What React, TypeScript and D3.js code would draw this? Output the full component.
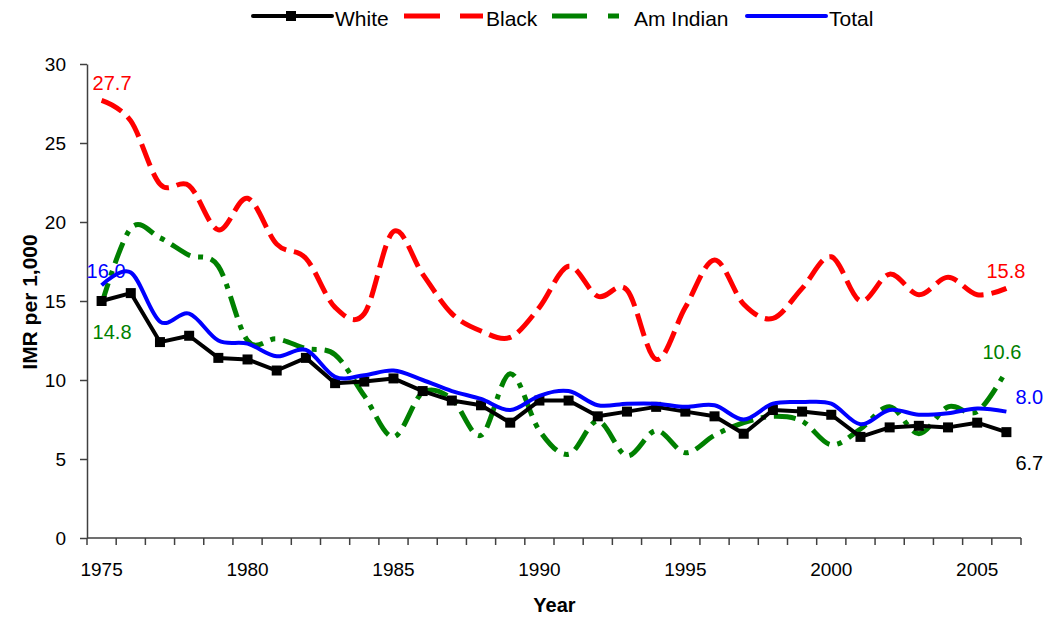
import React, { useEffect, useRef } from "react";
import * as d3 from "d3";

const years = d3.range(1975, 2007);
const yearLabels = [1975, 1980, 1985, 1990, 1995, 2000, 2005];
const yTicks = [0, 5, 10, 15, 20, 25, 30];

const white = [15.0, 15.5, 12.4, 12.8, 11.4, 11.3, 10.6, 11.4, 9.8, 9.9, 10.1, 9.3, 8.7, 8.4, 7.3, 8.7, 8.7, 7.7, 8.0, 8.3, 8.0, 7.7, 6.6, 8.1, 8.0, 7.8, 6.4, 7.0, 7.1, 7.0, 7.3, 6.7];
const black = [27.7, 26.4, 22.4, 22.3, 19.5, 21.5, 18.6, 17.7, 14.6, 14.2, 19.4, 16.7, 14.2, 13.1, 12.7, 14.6, 17.2, 15.3, 15.7, 11.3, 14.6, 17.6, 14.8, 13.9, 15.8, 17.8, 15.0, 16.7, 15.4, 16.5, 15.4, 15.8];
const amIndian = [14.8, 19.6, 19.0, 17.9, 17.2, 12.5, 12.6, 12.0, 11.6, 9.0, 6.4, 9.2, 8.8, 6.5, 10.4, 6.8, 5.3, 7.4, 5.2, 6.8, 5.4, 6.5, 7.3, 7.7, 7.4, 5.9, 6.9, 8.3, 6.6, 8.3, 8.0, 10.6];
const total = [16.0, 16.8, 13.7, 14.2, 12.5, 12.3, 11.5, 11.9, 10.2, 10.3, 10.6, 10.0, 9.3, 8.8, 8.1, 9.0, 9.3, 8.4, 8.5, 8.5, 8.3, 8.4, 7.5, 8.5, 8.6, 8.5, 7.2, 8.1, 7.8, 7.9, 8.2, 8.0];

const FONT = "'Liberation Sans', Arial, sans-serif";

export default function App() {
  const ref = useRef<SVGSVGElement>(null);

  useEffect(() => {
    const svg = d3.select(ref.current);
    svg.selectAll("*").remove();

    const x = d3.scaleBand<number>().domain(years).range([87, 1021]).padding(0);
    const y = d3.scaleLinear().domain([0, 30]).range([538, 64]);
    const cx = (yr: number) => (x(yr) as number) + x.bandwidth() / 2;

    const axisColor = "#404040";

    // y axis
    const yAxis = svg
      .append("g")
      .attr("transform", "translate(87,0)")
      .call(d3.axisLeft(y).tickValues(yTicks).tickSize(7).tickPadding(14).tickSizeOuter(0));
    yAxis.select(".domain").attr("stroke", axisColor).attr("stroke-width", 1.5);
    yAxis.selectAll(".tick line").attr("stroke", axisColor).attr("stroke-width", 1.5);
    yAxis.selectAll("text").attr("font-family", FONT).attr("font-size", 19).attr("fill", "#000");

    // x axis, ticks sit between the categories
    const xg = svg.append("g");
    xg.append("line")
      .attr("x1", 87).attr("x2", 1021).attr("y1", y(0)).attr("y2", y(0))
      .attr("stroke", axisColor).attr("stroke-width", 1.5);
    const edges = years.map((yr) => x(yr) as number).concat([1021]);
    xg.selectAll(".xt")
      .data(edges)
      .join("line")
      .attr("x1", (d) => d).attr("x2", (d) => d)
      .attr("y1", y(0)).attr("y2", y(0) + 7)
      .attr("stroke", axisColor).attr("stroke-width", 1.5);
    xg.selectAll(".xl")
      .data(yearLabels)
      .join("text")
      .attr("x", (d) => cx(d))
      .attr("y", 576)
      .attr("text-anchor", "middle")
      .attr("font-family", FONT)
      .attr("font-size", 19)
      .text((d) => d);

    // axis titles
    svg.append("text")
      .attr("x", cx(1990) + 15).attr("y", 612)
      .attr("text-anchor", "middle")
      .attr("font-family", FONT).attr("font-size", 20).attr("font-weight", "bold")
      .text("Year");
    svg.append("text")
      .attr("transform", "translate(37,302) rotate(-90)")
      .attr("text-anchor", "middle")
      .attr("font-family", FONT).attr("font-size", 21).attr("font-weight", "bold")
      .text("IMR per 1,000");

    const smooth = d3.line<number>().x((d, i) => cx(years[i])).y((d) => y(d)).curve(d3.curveCardinal.tension(0));
    const straight = d3.line<number>().x((d, i) => cx(years[i])).y((d) => y(d));

    // Am Indian
    svg.append("path").attr("d", smooth(amIndian))
      .attr("fill", "none").attr("stroke", "#008000").attr("stroke-width", 5)
      .attr("stroke-dasharray", "22 8 5 8");
    // Black
    svg.append("path").attr("d", smooth(black))
      .attr("fill", "none").attr("stroke", "#ff0000").attr("stroke-width", 5)
      .attr("stroke-dasharray", "23 8");
    // White
    svg.append("path").attr("d", straight(white))
      .attr("fill", "none").attr("stroke", "#000").attr("stroke-width", 4)
      .attr("stroke-linejoin", "round");
    svg.selectAll(".wm")
      .data(white)
      .join("rect")
      .attr("x", (d, i) => cx(years[i]) - 5)
      .attr("y", (d) => y(d) - 5)
      .attr("width", 10).attr("height", 10)
      .attr("fill", "#000");
    // Total
    svg.append("path").attr("d", smooth(total))
      .attr("fill", "none").attr("stroke", "#0000ff").attr("stroke-width", 4);

    // end labels
    const last = years.length - 1;
    const labels = [
      { t: "27.7", c: "#ff0000", x: cx(1975) - 9, y: y(black[0]) - 10 },
      { t: "16.0", c: "#0000ff", x: cx(1975) - 15, y: y(total[0]) - 7 },
      { t: "14.8", c: "#008000", x: cx(1975) - 9, y: y(amIndian[0]) + 35 },
      { t: "15.8", c: "#ff0000", x: cx(years[last]) - 20, y: y(black[last]) - 10 },
      { t: "10.6", c: "#008000", x: cx(years[last]) - 24, y: y(amIndian[last]) - 12 },
      { t: "8.0", c: "#0000ff", x: cx(years[last]) + 9, y: y(total[last]) - 8 },
      { t: "6.7", c: "#000", x: cx(years[last]) + 9, y: y(white[last]) + 38 },
    ];
    svg.selectAll(".dl")
      .data(labels)
      .join("text")
      .attr("x", (d) => d.x).attr("y", (d) => d.y)
      .attr("fill", (d) => d.c)
      .attr("font-family", FONT).attr("font-size", 20)
      .text((d) => d.t);

    // legend
    const lg = svg.append("g");
    const ly = 16;
    lg.append("line").attr("x1", 253).attr("x2", 332).attr("y1", ly).attr("y2", ly)
      .attr("stroke", "#000").attr("stroke-width", 4).attr("stroke-linecap", "round");
    lg.append("rect").attr("x", 286).attr("y", ly - 5).attr("width", 10).attr("height", 10).attr("fill", "#000");
    lg.append("line").attr("x1", 404).attr("x2", 483).attr("y1", ly).attr("y2", ly)
      .attr("stroke", "#ff0000").attr("stroke-width", 5).attr("stroke-dasharray", "36 20");
    lg.append("line").attr("x1", 552).attr("x2", 619).attr("y1", ly).attr("y2", ly)
      .attr("stroke", "#008000").attr("stroke-width", 5).attr("stroke-dasharray", "35 21 11 21");
    lg.append("line").attr("x1", 747).attr("x2", 826).attr("y1", ly).attr("y2", ly)
      .attr("stroke", "#0000ff").attr("stroke-width", 4).attr("stroke-linecap", "round");
    const legendText = [
      { t: "White", x: 335 },
      { t: "Black", x: 486 },
      { t: "Am Indian", x: 634 },
      { t: "Total", x: 829 },
    ];
    lg.selectAll(".lt")
      .data(legendText)
      .join("text")
      .attr("x", (d) => d.x).attr("y", 26)
      .attr("font-family", FONT).attr("font-size", 21)
      .text((d) => d.t);
  }, []);

  return (
    <svg
      ref={ref}
      width={1053}
      height={620}
      style={{ position: "absolute", left: 0, top: 0, background: "#fff" }}
    />
  );
}
